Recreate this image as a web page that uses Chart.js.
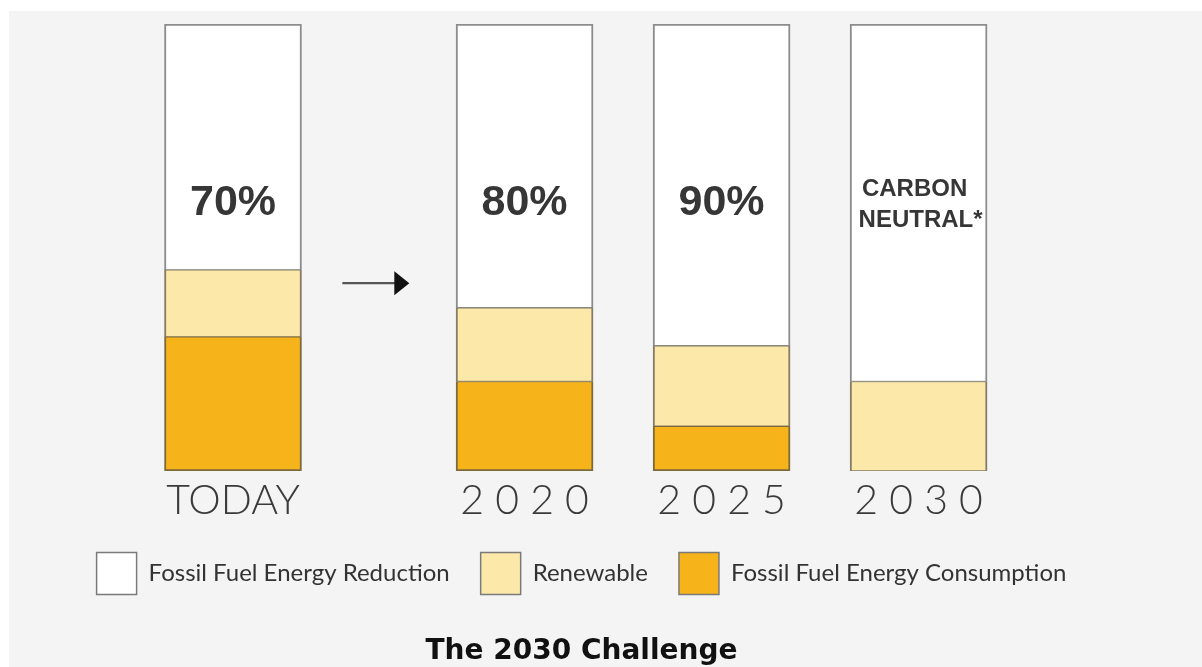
<!DOCTYPE html>
<html>
<head>
<meta charset="utf-8">
<script src="https://cdn.jsdelivr.net/npm/chart.js@4.4.1/dist/chart.umd.min.js"></script>
<style>
  html, body { margin: 0; padding: 0; background: #fff; overflow: hidden; }
  #wrap { position: absolute; left: 9px; top: 11px; width: 1193px; height: 656px; background: #f4f4f4; }
</style>
</head>
<body>
<div id="wrap"><canvas id="chart"></canvas></div>
<script>
// data (percent of bar height)
const categories = ['TODAY', '2020', '2025', '2030'];
const tickLabels = ['TODAY', '2 0 2 0', '2 0 2 5', '2 0 3 0'];
const reductionValues = [55, 63.5, 72, 80];
const renewableValues = [15, 16.5, 18, 20];
const consumptionValues = [30, 20, 10, 0];
const barLabels = [['70%'], ['80%'], ['90%'], ['CARBON', 'NEUTRAL*']];

// TODAY sits a bit further left, the arrow goes in the gap
const xPos = categories.map((c, i) => i === 0 ? 0 : i + 0.48);

function points(values) {
    return values.map((v, i) => ({ x: xPos[i], y: v }));
}

const barTextPlugin = {
    id: 'barText',
    afterDatasetsDraw(chart) {
        const ctx = chart.ctx;
        const xs = chart.scales.x;
        const ys = chart.scales.y;
        ctx.save();
        ctx.fillStyle = '#363636';
        ctx.textAlign = 'center';
        ctx.textBaseline = 'middle';
        barLabels.forEach((lines, i) => {
            const x = xs.getPixelForValue(xPos[i]);
            if (lines.length === 1) {
                ctx.font = 'bold 43px "Liberation Sans", Arial, sans-serif';
                ctx.fillText(lines[0], x, ys.getPixelForValue(60));
            } else {
                ctx.font = 'bold 24px "Liberation Sans", Arial, sans-serif';
                lines.forEach((t, j) => {
                    ctx.fillText(t, x + (j === 1 ? 2 : -4), ys.getPixelForValue(62.9) + j * 31);
                });
            }
        });

        // arrow between TODAY and 2020
        const y = ys.getPixelForValue(42);
        const x0 = xs.getPixelForValue(0.555);
        const x1 = xs.getPixelForValue(0.895);
        ctx.strokeStyle = '#555';
        ctx.lineWidth = 2.2;
        ctx.beginPath();
        ctx.moveTo(x0, y);
        ctx.lineTo(x1 - 12, y);
        ctx.stroke();
        ctx.fillStyle = '#111';
        ctx.beginPath();
        ctx.moveTo(x1, y);
        ctx.lineTo(x1 - 15, y - 12);
        ctx.lineTo(x1 - 15, y + 12);
        ctx.closePath();
        ctx.fill();
        ctx.restore();
    }
};

const ctx = document.getElementById('chart').getContext('2d');
const chart = new Chart(ctx, {
    type: 'bar',
    data: {
        datasets: [
            {
                label: 'Fossil Fuel Energy Consumption',
                data: points(consumptionValues),
                backgroundColor: '#f6b31a',
                borderColor: '#7d6a3c',
                borderWidth: { top: 1, bottom: 2, left: 2, right: 2 },
                borderSkipped: false,
                barThickness: 137
            },
            {
                label: 'Renewable',
                data: points(renewableValues),
                backgroundColor: '#fce9a9',
                borderColor: '#857b66',
                borderWidth: { top: 1, bottom: 1, left: 2, right: 2 },
                borderSkipped: false,
                barThickness: 137
            },
            {
                label: 'Fossil Fuel Energy Reduction',
                data: points(reductionValues),
                backgroundColor: '#ffffff',
                borderColor: '#8c8c8c',
                borderWidth: { top: 2, bottom: 1, left: 2, right: 2 },
                borderSkipped: false,
                barThickness: 137
            }
        ]
    },
    options: {
        responsive: true,
        maintainAspectRatio: false,
        animation: false,
        layout: { padding: { top: 13, right: 48, left: 0, bottom: 0 } },
        scales: {
            x: {
                type: 'linear',
                stacked: true,
                offset: false,
                min: -1.137,
                max: 4.675,
                grid: { display: false, drawTicks: true, tickLength: 9.5 },
                border: { display: false },
                afterBuildTicks(scale) {
                    scale.ticks = xPos.map(v => ({ value: v }));
                },
                afterFit(scale) {
                    scale.paddingLeft = 0;
                    scale.paddingRight = 0;
                },
                ticks: {
                    autoSkip: false,
                    maxRotation: 0,
                    padding: 0,
                    color: '#3a3a3a',
                    font: { family: 'Lato', size: 41, weight: 300, lineHeight: 1 },
                    callback(value) {
                        const i = xPos.indexOf(value);
                        return i >= 0 ? tickLabels[i] : '';
                    }
                }
            },
            y: {
                display: false,
                stacked: true,
                min: 0,
                max: 100
            }
        },
        plugins: {
            tooltip: { enabled: false },
            legend: {
                position: 'bottom',
                reverse: true,
                labels: {
                    boxWidth: 40,
                    boxHeight: 42,
                    padding: 31,
                    color: '#333',
                    useBorderRadius: true,
                    borderRadius: 2,
                    font: { family: 'Lato', size: 24 },
                    generateLabels(chart) {
                        return chart.data.datasets.map((ds, i) => ({
                            text: ds.label,
                            fillStyle: ds.backgroundColor,
                            strokeStyle: '#7a7a7a',
                            lineWidth: 1.5,
                            fontColor: '#333',
                            datasetIndex: i
                        }));
                    }
                }
            },
            title: {
                display: true,
                position: 'bottom',
                text: 'The 2030 Challenge',
                color: '#111',
                font: { family: 'DejaVu Sans', size: 28, weight: 'bold' },
                padding: { top: 31, bottom: -2 }
            }
        }
    },
    plugins: [barTextPlugin]
});
</script>
</body>
</html>
